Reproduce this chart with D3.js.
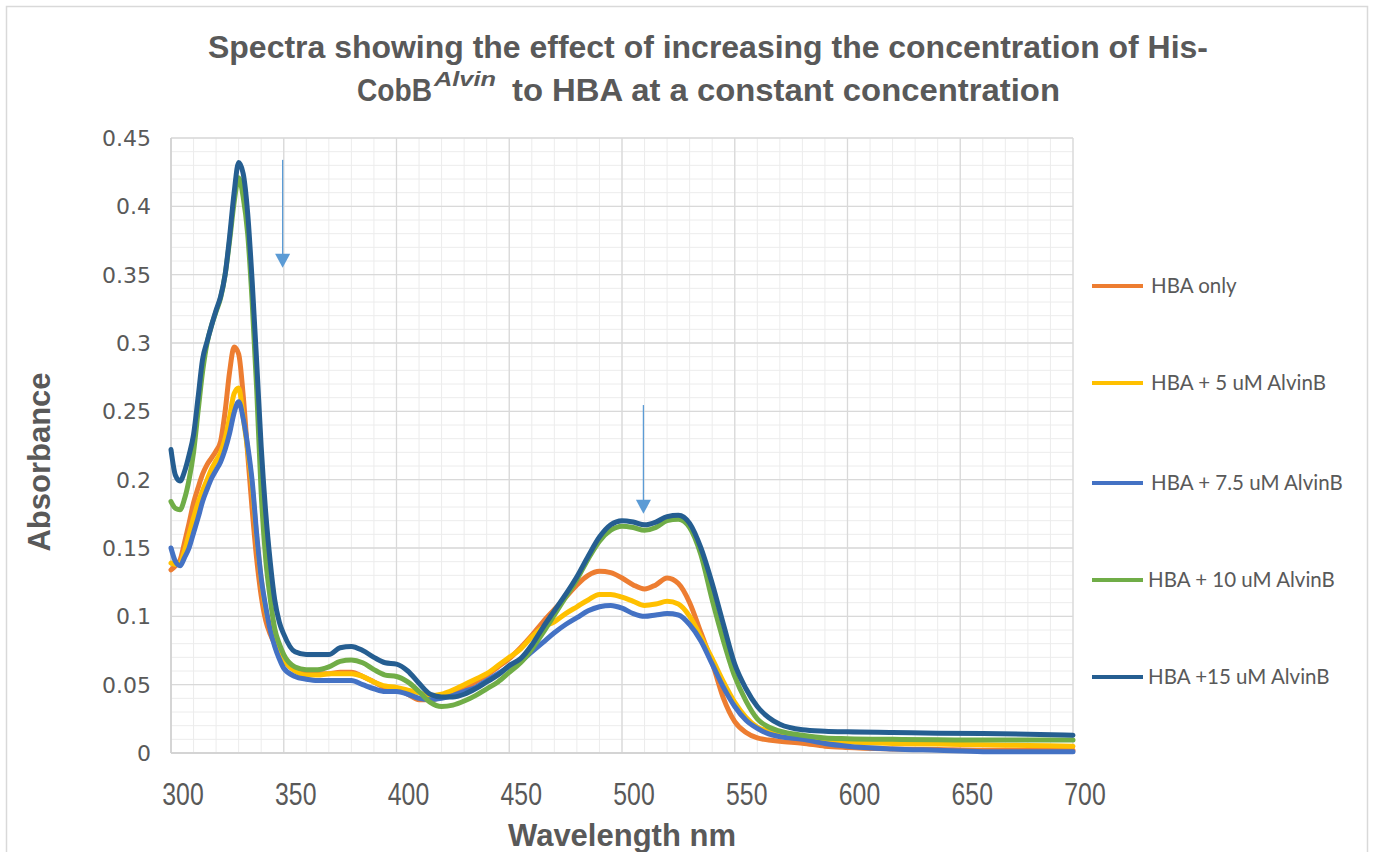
<!DOCTYPE html>
<html>
<head>
<meta charset="utf-8">
<script src="https://cdn.jsdelivr.net/npm/d3@7"></script>
<style>
  html, body { margin: 0; padding: 0; background: #fff; }
  svg { display: block; }
</style>
</head>
<body>
<svg id="chart" width="1376" height="852"></svg>
<script>
// Wavelength grid (nm) shared by all spectra
const wavelengths = [300,302,304,306,308,310,312,314,316,318,320,322,324,326,328,330,332,334,336,338,340,342,344,346,348,350,
  355,360,365,370,375,380,385,390,395,400,405,410,415,420,425,430,435,440,445,450,455,460,465,470,475,480,485,490,495,500,
  505,510,515,520,525,530,535,540,545,550,555,560,565,570,580,590,600,620,640,660,680,700];

// Absorbance of each sample
const hbaOnly = [0.134,0.137,0.141,0.154,0.168,0.183,0.194,0.204,0.211,0.216,0.221,0.228,0.250,0.279,0.297,0.292,0.262,0.219,0.178,0.142,0.115,0.097,0.087,0.080,0.075,0.070,
  0.062,0.059,0.058,0.058,0.059,0.059,0.056,0.052,0.048,0.047,0.043,0.039,0.039,0.041,0.044,0.047,0.052,0.057,0.063,0.069,0.077,0.086,0.096,0.105,0.114,0.123,0.130,0.133,0.132,0.128,
  0.123,0.120,0.123,0.128,0.124,0.110,0.088,0.066,0.040,0.023,0.015,0.011,0.0095,0.0085,0.0072,0.005,0.004,0.003,0.0025,0.002,0.002,0.002];

const hba5 = [0.139,0.138,0.139,0.148,0.160,0.172,0.183,0.192,0.200,0.208,0.214,0.220,0.230,0.246,0.263,0.267,0.246,0.222,0.195,0.158,0.127,0.105,0.092,0.082,0.074,0.068,
  0.060,0.057,0.057,0.058,0.058,0.058,0.056,0.052,0.049,0.048,0.046,0.044,0.042,0.043,0.046,0.050,0.054,0.058,0.064,0.070,0.076,0.085,0.092,0.096,0.102,0.107,0.112,0.116,0.116,0.114,
  0.111,0.108,0.109,0.111,0.109,0.100,0.085,0.069,0.052,0.037,0.026,0.019,0.016,0.014,0.011,0.009,0.008,0.007,0.0065,0.006,0.0055,0.005];

const hba75 = [0.150,0.140,0.137,0.143,0.150,0.161,0.172,0.184,0.193,0.201,0.207,0.213,0.222,0.234,0.249,0.257,0.245,0.225,0.199,0.160,0.128,0.107,0.090,0.078,0.069,0.062,
  0.056,0.054,0.053,0.053,0.053,0.053,0.050,0.047,0.045,0.045,0.043,0.040,0.039,0.040,0.042,0.045,0.048,0.053,0.058,0.063,0.067,0.074,0.081,0.088,0.094,0.099,0.104,0.107,0.108,0.106,
  0.102,0.100,0.101,0.102,0.101,0.094,0.082,0.065,0.048,0.034,0.024,0.018,0.014,0.012,0.010,0.007,0.005,0.003,0.002,0.001,0.001,0.001];

const hba10 = [0.184,0.179,0.178,0.186,0.200,0.220,0.250,0.279,0.300,0.313,0.323,0.333,0.350,0.375,0.403,0.421,0.407,0.380,0.330,0.266,0.190,0.142,0.113,0.091,0.080,0.072,
  0.063,0.061,0.061,0.063,0.067,0.068,0.066,0.061,0.057,0.056,0.052,0.045,0.037,0.034,0.035,0.038,0.042,0.047,0.052,0.059,0.066,0.076,0.088,0.101,0.114,0.127,0.142,0.155,0.163,0.166,
  0.165,0.163,0.165,0.170,0.171,0.165,0.145,0.112,0.082,0.056,0.038,0.025,0.019,0.016,0.013,0.011,0.0105,0.010,0.0097,0.0095,0.0095,0.0095];

const hba15 = [0.222,0.203,0.199,0.206,0.218,0.233,0.260,0.288,0.301,0.313,0.324,0.334,0.350,0.378,0.410,0.432,0.424,0.395,0.345,0.286,0.224,0.176,0.140,0.112,0.096,0.087,
  0.074,0.072,0.072,0.072,0.077,0.078,0.075,0.070,0.066,0.065,0.060,0.051,0.043,0.041,0.041,0.043,0.047,0.052,0.057,0.064,0.069,0.079,0.092,0.104,0.116,0.129,0.144,0.158,0.167,0.170,
  0.169,0.167,0.169,0.173,0.174,0.168,0.150,0.124,0.094,0.065,0.047,0.034,0.026,0.021,0.017,0.016,0.0155,0.015,0.0145,0.0142,0.0138,0.013];

const seriesNames = ["HBA only", "HBA + 5 uM AlvinB", "HBA + 7.5 uM AlvinB", "HBA + 10 uM AlvinB", "HBA +15 uM AlvinB"];
const seriesValues = [hbaOnly, hba5, hba75, hba10, hba15];
const seriesColors = ["#ED7D31", "#FFC000", "#4472C4", "#70AD47", "#255E91"];

const xTicks = [300, 350, 400, 450, 500, 550, 600, 650, 700];
const yTicks = [0, 0.05, 0.1, 0.15, 0.2, 0.25, 0.3, 0.35, 0.4, 0.45];
const yTickLabels = ["0", "0.05", "0.1", "0.15", "0.2", "0.25", "0.3", "0.35", "0.4", "0.45"];

// Downward arrows marking the decreasing bands (wavelength, start absorbance, tip absorbance)
const arrows = [
  { nm: 349.5, from: 0.434, to: 0.355 },
  { nm: 509.5, from: 0.2546, to: 0.175 }
];

const svg = d3.select("#chart");
const plot = { left: 171, right: 1073, top: 138, bottom: 753 };

// Outer chart frame
svg.append("rect")
  .attr("x", 6.5).attr("y", 6.5).attr("width", 1361).attr("height", 900)
  .attr("fill", "#fff").attr("stroke", "#d9d9d9").attr("stroke-width", 1.5);

const x = d3.scaleLinear().domain([300, 700]).range([plot.left, plot.right]);
const y = d3.scaleLinear().domain([0, 0.45]).range([plot.bottom, plot.top]);

// Minor gridlines
const gMinor = svg.append("g").attr("stroke", "#ececec").attr("stroke-width", 1);
gMinor.selectAll("line.vx").data(d3.range(300, 701, 10)).join("line")
  .attr("x1", d => x(d)).attr("x2", d => x(d)).attr("y1", plot.top).attr("y2", plot.bottom);
gMinor.selectAll("line.hy").data(d3.range(0, 46).map(i => i / 100)).join("line")
  .attr("y1", d => y(d)).attr("y2", d => y(d)).attr("x1", plot.left).attr("x2", plot.right);

// Major gridlines
const gMajor = svg.append("g").attr("stroke", "#d9d9d9").attr("stroke-width", 1.3);
gMajor.selectAll("line.vx").data(xTicks).join("line")
  .attr("x1", d => x(d)).attr("x2", d => x(d)).attr("y1", plot.top).attr("y2", plot.bottom);
gMajor.selectAll("line.hy").data(yTicks).join("line")
  .attr("y1", d => y(d)).attr("y2", d => y(d)).attr("x1", plot.left).attr("x2", plot.right);

// Axis lines
svg.append("line").attr("x1", plot.left).attr("x2", plot.right).attr("y1", y(0)).attr("y2", y(0))
  .attr("stroke", "#d0d0d0").attr("stroke-width", 1.5);
svg.append("line").attr("x1", plot.left).attr("x2", plot.left).attr("y1", plot.top).attr("y2", plot.bottom)
  .attr("stroke", "#d0d0d0").attr("stroke-width", 1.5);

// Y tick labels
svg.append("g").selectAll("text").data(yTicks).join("text")
  .attr("x", 151).attr("y", d => y(d)).attr("dy", "0.36em")
  .attr("text-anchor", "end")
  .attr("font-family", "'DejaVu Sans', sans-serif").attr("font-size", 22)
  .attr("fill", "#595959")
  .text((d, i) => yTickLabels[i]);

// X tick labels (condensed face)
svg.append("g").selectAll("text").data(xTicks).join("text")
  .attr("transform", d => `translate(${x(d) + 12},805) scale(0.8,1)`)
  .attr("text-anchor", "middle")
  .attr("font-family", "'Liberation Sans', Arial, sans-serif")
  .attr("font-size", 31)
  .attr("fill", "#595959")
  .text(d => d);

// Spectra
const line = d3.line()
  .x((d, i) => x(wavelengths[i]))
  .y(d => y(d))
  .curve(d3.curveMonotoneX);

svg.append("g").selectAll("path").data(seriesValues).join("path")
  .attr("d", d => line(d))
  .attr("fill", "none")
  .attr("stroke", (d, i) => seriesColors[i])
  .attr("stroke-width", 5)
  .attr("stroke-linejoin", "round")
  .attr("stroke-linecap", "round");

// Arrows
const arrowColor = "#5B9BD5";
const gArrows = svg.append("g");
arrows.forEach(a => {
  const ax = x(a.nm), y0 = y(a.from), yTip = y(a.to);
  gArrows.append("line").attr("x1", ax).attr("x2", ax).attr("y1", y0).attr("y2", yTip - 12)
    .attr("stroke", arrowColor).attr("stroke-width", 1.3);
  gArrows.append("path")
    .attr("d", `M${ax - 7.5},${yTip - 14} L${ax + 7.5},${yTip - 14} L${ax},${yTip} Z`)
    .attr("fill", arrowColor);
});

// Legend
const legendY = [286, 383, 483, 580, 677];
const legendTextX = [1151, 1151, 1151, 1148, 1148];
const gLeg = svg.append("g");
seriesNames.forEach((name, i) => {
  gLeg.append("line").attr("x1", 1092).attr("x2", 1143).attr("y1", legendY[i]).attr("y2", legendY[i])
    .attr("stroke", seriesColors[i]).attr("stroke-width", 4);
  gLeg.append("text").attr("x", legendTextX[i]).attr("y", legendY[i]).attr("dy", "0.35em")
    .attr("font-family", "Lato, 'Open Sans', sans-serif").attr("font-size", 20.5)
    .attr("fill", "#595959").text(name);
});

// Title
const boldFont = "'Liberation Sans', Arial, sans-serif";
svg.append("text").attr("x", 208).attr("y", 58)
  .attr("font-family", boldFont).attr("font-weight", "bold").attr("font-size", 31)
  .attr("fill", "#595959")
  .attr("textLength", 1000).attr("lengthAdjust", "spacingAndGlyphs")
  .text("Spectra showing the effect of increasing the concentration of His-");
svg.append("text").attr("x", 357).attr("y", 101)
  .attr("font-family", boldFont).attr("font-weight", "bold").attr("font-size", 31)
  .attr("fill", "#595959")
  .attr("textLength", 75).attr("lengthAdjust", "spacingAndGlyphs")
  .text("CobB");
svg.append("text").attr("x", 434).attr("y", 86)
  .attr("font-family", boldFont).attr("font-weight", "bold").attr("font-style", "italic").attr("font-size", 20)
  .attr("fill", "#595959")
  .attr("textLength", 62).attr("lengthAdjust", "spacingAndGlyphs")
  .text("Alvin");
svg.append("text").attr("x", 512).attr("y", 101)
  .attr("font-family", boldFont).attr("font-weight", "bold").attr("font-size", 31)
  .attr("fill", "#595959")
  .attr("textLength", 548).attr("lengthAdjust", "spacingAndGlyphs")
  .text("to HBA at a constant concentration");

// Axis titles
svg.append("text").attr("x", 622).attr("y", 846)
  .attr("text-anchor", "middle")
  .attr("font-family", boldFont).attr("font-weight", "bold").attr("font-size", 31)
  .attr("fill", "#595959")
  .text("Wavelength nm");
svg.append("text")
  .attr("transform", "translate(50,462) rotate(-90)")
  .attr("text-anchor", "middle")
  .attr("font-family", boldFont).attr("font-weight", "bold").attr("font-size", 31)
  .attr("fill", "#595959")
  .text("Absorbance");
</script>
</body>
</html>
